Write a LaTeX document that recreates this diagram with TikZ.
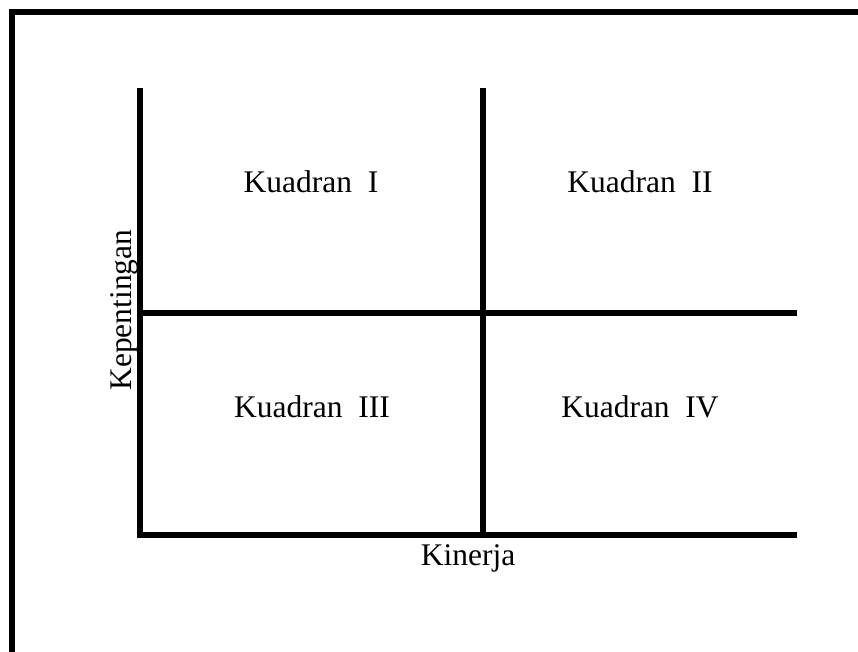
\documentclass[tikz,border=0pt]{standalone}
\usepackage{fontspec}
\setmainfont{Liberation Serif}
\begin{document}
\begin{tikzpicture}[x=1pt, y=-1pt, line width=6pt, line join=miter,
	label/.style={font=\fontsize{31.5}{36}\selectfont, inner sep=0pt}]
			\useasboundingbox (0,0) rectangle (858,651);
			\path
			(12,12) coordinate (FA)
			(12,660) coordinate (FB)
			(866,12) coordinate (FC)
			(140,88) coordinate (Y)
			(140,535) coordinate (O)
			(797,535) coordinate (X)
			(483,88) coordinate (T)
			(483,535) coordinate (B)
			(140,313) coordinate (L)
			(797,313) coordinate (R)
			;
			% frame and axes
			\draw
			(FB)--(FA)--(FC)
			(Y)--(O)--(X)
			(T)--(B) (L)--(R)
			;
			\foreach \n/\x/\y/\t in {q1/311/192/I, q2/640/192/II, q3/312/417/III, q4/640/417/IV}
			\node[label, anchor=base] (\n) at (\x,\y) {Kuadran\ \ \t};
			\node[label, anchor=base] (kinerja) at (468,565) {Kinerja};
			\node[label, rotate=90] (kepentingan) at (124,310) {Kepentingan};
		\end{tikzpicture}
\end{document}
